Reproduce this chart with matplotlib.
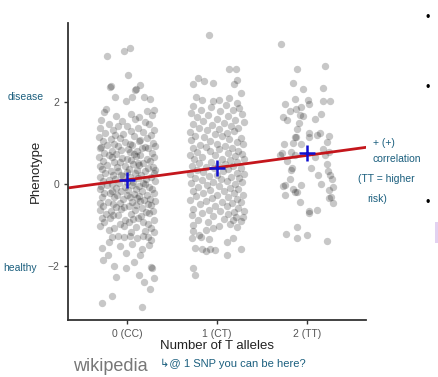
import matplotlib
matplotlib.use("Agg")
import matplotlib.pyplot as plt

plt.rcParams['font.family'] = ['Liberation Sans', 'DejaVu Sans']

# genotype groups
groups = [0, 1, 2]
group_labels = ["0 (CC)", "1 (CT)", "2 (TT)"]
group_means = [0.10, 0.38, 0.75]
fit_intercept = 0.10
fit_slope = 0.30

# jittered points: (offset from group, phenotype)
cc_points = [
    (-0.22, 3.14), (-0.03, 3.25), (0.03, 3.33), (0.01, 2.66), (-0.18, 2.40), (0.15, 2.43),
    (0.10, 2.32), (-0.13, 2.12), (-0.01, 2.02), (0.06, 2.13), (0.19, 2.13), (0.26, 2.08),
    (0.30, 1.82), (-0.23, 1.83), (-0.19, 2.38), (0.09, 2.30),
    (-0.25, 1.76), (0.05, 1.72), (0.22, 1.79), (-0.12, 1.66), (0.14, 1.63), (0.28, 1.68),
    (-0.29, 1.56), (-0.05, 1.53), (0.09, 1.58), (0.20, 1.51),
    (-0.20, 1.46), (0.00, 1.43), (0.25, 1.47), (-0.10, 1.41),
    (-0.30, 1.37), (-0.15, 1.33), (0.12, 1.36), (0.30, 1.31), (0.05, 1.29),
    (-0.24, 1.26), (-0.04, 1.22), (0.18, 1.27), (0.27, 1.21), (-0.13, 1.19),
    (-0.31, 1.16), (-0.08, 1.13), (0.08, 1.17), (0.22, 1.12), (-0.18, 1.09), (0.15, 1.08),
    (-0.27, 1.06), (-0.02, 1.03), (0.13, 1.05), (0.29, 1.01), (-0.14, 0.99), (0.04, 0.98),
    (-0.22, 0.96), (-0.10, 0.93), (0.06, 0.95), (0.20, 0.91), (0.31, 0.94), (-0.29, 0.90),
    (-0.30, 0.88), (-0.17, 0.82), (0.01, 0.86), (0.11, 0.81), (0.24, 0.89), (-0.06, 0.84), (0.17, 0.87),
    (-0.25, 0.76), (-0.12, 0.73), (0.03, 0.78), (0.15, 0.72), (0.28, 0.75), (-0.20, 0.71), (0.08, 0.74),
    (-0.31, 0.66), (-0.05, 0.63), (0.10, 0.68), (0.22, 0.62), (-0.16, 0.65), (0.30, 0.67), (0.00, 0.61),
    (-0.27, 0.56), (-0.14, 0.53), (0.05, 0.58), (0.18, 0.52), (0.26, 0.57), (-0.08, 0.55), (0.12, 0.51),
    (-0.22, 0.47), (-0.02, 0.43), (0.14, 0.46), (0.29, 0.42), (-0.30, 0.45), (0.07, 0.48), (-0.11, 0.41),
    (-0.28, 0.37), (-0.10, 0.33), (0.02, 0.36), (0.20, 0.32), (0.24, 0.38), (-0.18, 0.31), (0.11, 0.34), (0.31, 0.35),
    (-0.24, 0.27), (-0.06, 0.23), (0.09, 0.26), (0.16, 0.22), (0.30, 0.28), (-0.15, 0.21), (0.00, 0.29),
    (-0.30, 0.17), (-0.13, 0.13), (0.04, 0.16), (0.21, 0.12), (0.27, 0.18), (-0.20, 0.11), (0.12, 0.14), (-0.04, 0.19),
    (-0.26, 0.07), (-0.09, 0.03), (0.07, 0.06), (0.18, 0.02), (0.31, 0.08), (-0.17, 0.01), (0.00, 0.04),
    (-0.22, -0.03), (-0.02, -0.07), (0.13, -0.04), (0.25, -0.08), (-0.29, -0.06), (0.06, -0.02), (-0.12, -0.09), (0.20, -0.01),
    (-0.30, -0.13), (-0.16, -0.17), (0.01, -0.14), (0.17, -0.18), (0.28, -0.12), (-0.07, -0.16), (0.10, -0.11),
    (-0.25, -0.23), (-0.11, -0.27), (0.08, -0.24), (0.22, -0.28), (0.30, -0.22), (-0.19, -0.21), (0.00, -0.26), (0.14, -0.29),
    (-0.28, -0.33), (-0.04, -0.37), (0.11, -0.34), (0.19, -0.38), (-0.14, -0.31), (0.26, -0.36), (0.03, -0.32),
    (-0.21, -0.43), (-0.08, -0.47), (0.06, -0.44), (0.23, -0.48), (0.31, -0.42), (-0.30, -0.46), (0.15, -0.41), (-0.15, -0.49),
    (-0.26, -0.53), (-0.12, -0.57), (0.02, -0.54), (0.17, -0.58), (0.27, -0.52), (-0.03, -0.56), (0.10, -0.51),
    (-0.30, -0.63), (-0.18, -0.67), (0.09, -0.64), (0.21, -0.68), (-0.06, -0.62), (0.29, -0.66),
    (-0.23, -0.73), (-0.10, -0.77), (0.05, -0.74), (0.16, -0.78), (0.25, -0.72), (-0.15, -0.76),
    (-0.28, -0.83), (-0.02, -0.87), (0.12, -0.84), (0.30, -0.88), (-0.19, -0.82), (0.07, -0.86),
    (-0.25, -0.93), (-0.08, -0.97), (0.18, -0.94), (0.23, -0.98), (0.02, -0.92),
    (-0.30, -1.03), (-0.14, -1.07), (0.10, -1.04), (0.27, -1.08), (-0.03, -1.02),
    (-0.20, -1.13), (0.05, -1.17), (0.20, -1.14), (0.30, -1.18),
    (-0.17, -1.29), (-0.10, -1.27), (-0.03, -1.30), (0.04, -1.28), (0.11, -1.31), (0.18, -1.27), (0.24, -1.30),
    (-0.28, -1.56), (0.06, -1.48), (-0.08, -1.51), (-0.20, -1.41), (0.25, -1.50), (0.27, -1.37),
    (-0.26, -1.87), (-0.21, -1.74), (0.08, -1.92), (0.15, -1.74), (0.17, -1.58), (-0.01, -1.70),
    (-0.14, -2.00), (-0.01, -2.05), (0.27, -2.03), (0.28, -2.06), (-0.12, -2.27), (0.14, -2.22),
    (0.30, -2.31), (0.19, -2.40), (0.26, -2.58), (-0.17, -2.74), (-0.28, -2.91), (0.17, -3.02),
]

ct_points = [
    (-0.09, 3.64), (0.14, 2.81), (0.21, 2.81), (-0.21, 2.59), (-0.14, 2.51), (-0.26, 2.45),
    (-0.04, 2.47), (0.22, 2.55), (0.19, 2.45), (0.27, 2.23), (-0.23, 2.12), (-0.17, 2.06),
    (-0.04, 2.02), (0.03, 2.06), (0.14, 2.10), (0.22, 1.98),
    (-0.27, 1.92), (-0.06, 1.88), (0.10, 1.94), (0.25, 1.86),
    (-0.18, 1.82), (0.04, 1.78), (0.18, 1.80), (-0.29, 1.74),
    (-0.10, 1.70), (0.12, 1.67), (0.28, 1.72), (-0.22, 1.63),
    (0.00, 1.60), (0.20, 1.57), (-0.15, 1.54), (0.30, 1.52),
    (-0.27, 1.48), (-0.05, 1.45), (0.08, 1.50), (0.16, 1.42),
    (-0.20, 1.38), (0.02, 1.35), (0.24, 1.37), (-0.11, 1.31),
    (-0.30, 1.27), (0.11, 1.25), (0.19, 1.29), (-0.02, 1.22),
    (-0.24, 1.18), (-0.14, 1.15), (0.06, 1.17), (0.27, 1.13),
    (-0.29, 1.07), (-0.07, 1.05), (0.14, 1.09), (0.22, 1.02), (0.00, 0.99),
    (-0.19, 0.96), (0.09, 0.93), (0.29, 0.97), (-0.12, 0.90), (-0.26, 0.87),
    (0.03, 0.85), (0.17, 0.88), (0.24, 0.82), (-0.08, 0.80), (-0.22, 0.78),
    (0.12, 0.75), (-0.30, 0.72), (-0.02, 0.70), (0.20, 0.68), (0.28, 0.73),
    (-0.16, 0.65), (0.06, 0.62), (-0.25, 0.60), (0.15, 0.58), (0.30, 0.61),
    (-0.06, 0.55), (-0.20, 0.52), (0.09, 0.50), (0.23, 0.53), (0.01, 0.47),
    (-0.28, 0.45), (-0.12, 0.42), (0.18, 0.44), (0.27, 0.40), (-0.03, 0.38),
    (-0.22, 0.35), (0.07, 0.32), (0.13, 0.36), (-0.15, 0.29), (0.22, 0.27),
    (-0.30, 0.25), (0.00, 0.22), (0.30, 0.24), (-0.09, 0.19), (0.16, 0.17),
    (-0.24, 0.14), (0.05, 0.12), (0.25, 0.15), (-0.17, 0.09), (0.11, 0.07),
    (-0.04, 0.05), (-0.29, 0.03), (0.20, 0.01), (0.28, 0.04), (-0.11, -0.02),
    (0.03, -0.05), (-0.21, -0.07), (0.15, -0.09), (0.24, -0.12), (-0.07, -0.14),
    (-0.27, -0.16), (0.08, -0.18), (0.19, -0.21), (-0.15, -0.23), (0.00, -0.26),
    (0.29, -0.27), (-0.23, -0.30), (0.12, -0.32), (-0.05, -0.35), (0.22, -0.37),
    (-0.30, -0.40), (-0.12, -0.42), (0.06, -0.44), (0.17, -0.47), (0.27, -0.45),
    (-0.19, -0.50), (-0.02, -0.53), (0.11, -0.55), (0.24, -0.58), (-0.26, -0.60),
    (-0.09, -0.63), (0.04, -0.65), (0.19, -0.68), (0.30, -0.66), (-0.16, -0.71),
    (0.13, -0.74), (-0.28, -0.76), (-0.04, -0.79), (0.21, -0.81), (0.08, -0.85),
    (-0.21, -0.88), (0.27, -0.90), (-0.10, -0.93), (0.15, -0.97), (-0.27, -1.00),
    (0.02, -1.02), (0.23, -1.05), (0.29, -0.80), (0.18, -0.88),
    (-0.27, -1.15), (-0.12, -1.12), (-0.04, -1.08), (-0.20, -1.26), (-0.18, -1.30),
    (-0.28, -1.31), (-0.09, -1.35), (0.18, -1.33), (0.11, -1.42), (-0.24, -1.57),
    (-0.17, -1.60), (-0.12, -1.63), (-0.08, -1.58), (-0.02, -1.62), (0.27, -1.58),
    (0.11, -1.73), (-0.27, -2.05), (-0.24, -2.22),
]

tt_points = [
    (-0.29, 3.43), (-0.11, 2.81), (0.20, 2.90), (-0.15, 2.47), (-0.04, 2.32), (0.18, 2.35),
    (-0.24, 1.96), (-0.13, 2.08), (0.01, 2.06), (0.03, 1.96), (0.18, 2.02), (0.26, 2.04),
    (-0.26, 1.63), (-0.22, 1.57), (-0.19, 1.79), (-0.12, 1.84), (-0.06, 1.88), (-0.08, 1.69),
    (-0.04, 1.67), (0.09, 1.60), (0.16, 1.71), (-0.09, 1.49), (-0.11, 1.35), (-0.13, 1.16),
    (-0.12, 1.14), (0.03, 1.24), (0.02, 1.16), (0.11, 1.20), (0.15, 1.24), (0.25, 1.18),
    (-0.25, 0.97), (-0.15, 1.00), (-0.06, 0.97), (0.18, 0.85), (0.22, 1.02), (-0.28, 0.75),
    (-0.30, 0.71), (-0.17, 0.79), (-0.13, 0.71), (-0.22, 0.56), (0.09, 0.65), (0.20, 0.71),
    (0.25, 0.79), (0.22, 0.48), (0.05, 0.38), (-0.17, 0.34), (-0.16, 0.38), (-0.19, 0.12),
    (0.12, 0.22), (0.24, 0.32), (0.26, 0.22), (0.28, 0.12), (-0.24, -0.02), (-0.26, -0.04),
    (-0.06, -0.02), (0.16, -0.01), (0.29, -0.07), (-0.15, -0.11), (-0.13, -0.20), (-0.11, -0.19),
    (-0.24, -0.27), (0.25, -0.15), (0.27, -0.31), (0.25, -0.35), (-0.07, -0.45), (0.29, -0.47),
    (0.03, -0.66), (0.11, -0.64), (0.02, -0.70), (-0.11, -1.05), (-0.23, -1.23), (-0.11, -1.32),
    (0.00, -1.25), (0.22, -1.39),
]

fig = plt.figure(figsize=(4.38, 3.77), dpi=100)
ax = fig.add_axes([0.156, 0.151, 0.68, 0.789])

for g, pts in zip(groups, [cc_points, ct_points, tt_points]):
    xs = [g + p[0] for p in pts]
    ys = [p[1] for p in pts]
    ax.scatter(xs, ys, s=28, color="black", alpha=0.22, linewidths=0)

ax.axline((0, fit_intercept), slope=fit_slope, color="#c4161c", lw=2)
ax.plot(groups, group_means, ls="none", marker="+", ms=11, mew=1.8, color="#1010d0")

ax.set_xlim(-0.65, 2.66)
ax.set_ylim(-3.33, 3.95)
ax.set_xticks(groups)
ax.set_xticklabels(group_labels)
ax.set_yticks([-2, 0, 2])
ax.tick_params(labelsize=7.5, labelcolor="#555555", color="#333333", length=3, width=1)
for s in ["top", "right"]:
    ax.spines[s].set_visible(False)
for s in ["left", "bottom"]:
    ax.spines[s].set_color("#333333")
    ax.spines[s].set_linewidth(1.3)
ax.set_xlabel("Number of T alleles", fontsize=9.5, color="#222222", labelpad=1)
ax.set_ylabel("Phenotype", fontsize=9.5, color="#222222", labelpad=4)

# screenshot extras
fig.text(0.253, 0.027, "wikipedia", fontsize=13, color="#777777", ha="center", va="center")
hand = "#1b5f7e"
fig.text(0.018, 0.742, "disease", fontsize=7.5, color=hand, ha="left", va="center")
fig.text(0.008, 0.289, "healthy", fontsize=7.5, color=hand, ha="left", va="center")
fig.text(0.851, 0.620, "+ (+)", fontsize=7.5, color=hand, ha="left", va="center")
fig.text(0.851, 0.578, "correlation", fontsize=7.5, color=hand, ha="left", va="center")
fig.text(0.817, 0.525, "(TT = higher", fontsize=7.5, color=hand, ha="left", va="center")
fig.text(0.838, 0.472, "risk)", fontsize=7.5, color=hand, ha="left", va="center")
fig.text(0.365, 0.036, "\u21b3@ 1 SNP you can be here?", fontsize=8, color=hand, ha="left", va="center")
for yb in [0.952, 0.767, 0.461]:
    fig.text(0.977, yb, "\u2022", fontsize=9, color="black", ha="center", va="center")
fig.patches.append(plt.Rectangle((0.993, 0.356), 0.007, 0.055, transform=fig.transFigure,
                                 color="#e2d2f0", lw=0))

fig.savefig("out.png", dpi=100)
